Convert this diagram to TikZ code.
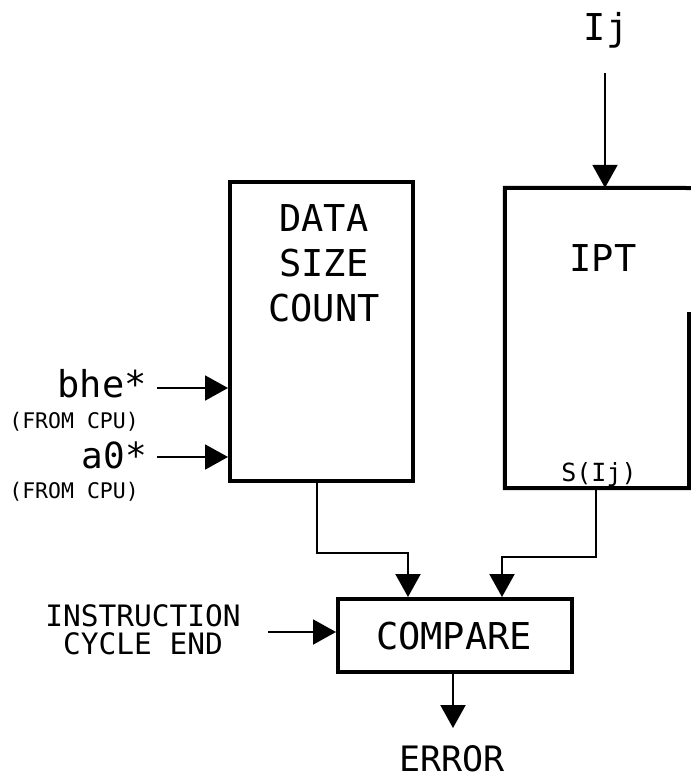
\documentclass[tikz,border=0pt]{standalone}
\usepackage{fontspec}
\setmonofont{DejaVu Sans Mono}
\usetikzlibrary{arrows.meta,calc}
\newcommand\pf[2]{\fontsize{#1}{#2}\selectfont\ttfamily}
\tikzset{
  box/.style={draw, line width=4pt, inner sep=0pt},
  conn/.style={line width=2pt, -{Triangle[length=23pt,width=25pt]}},
  big/.style={font=\pf{37}{45}, align=center, inner sep=0pt},
  mid/.style={font=\pf{29.5}{27.5}, align=center, inner sep=0pt},
  small/.style={font=\pf{21.5}{21.5}, inner sep=0pt},
}
\begin{document}
\begin{tikzpicture}[x=1pt,y=-1pt]
\useasboundingbox (0,0) rectangle (691,780);
% boxes
\node[box, minimum width=183pt, minimum height=299pt] (dsc) at (321.5,331.5) {};
\node[big] (dsctext) at (324,263.5) {DATA\\SIZE\\COUNT};
\node[inner sep=0pt, minimum width=184pt, minimum height=300pt] (ipt) at (597,338) {};
\draw[line width=4pt] (691,188) -- (ipt.north west) -- (ipt.south west) -- (ipt.south east) -- ++(0,-176);
\node[big] (ipttext) at (603,258.5) {IPT};
\node[font=\pf{25}{25}, inner sep=0pt, anchor=base] (sij) at (599,481) {S(Ij)};
\node[box, minimum width=234pt, minimum height=73pt] (cmp) at (455,635.5) {};
\node[big] (cmptext) at (454,636.5) {COMPARE};
% Ij input
\node[big, anchor=base] (ij) at (606,40) {Ij};
\coordinate (ijs) at (605,73);
\draw[conn] (ijs) -- (ijs |- ipt.north);
% left inputs
\node[font=\pf{37}{37}, inner sep=0pt, anchor=base east] (bhe) at (147,397) {bhe*};
\node[small, anchor=base east] (cpu1) at (139,428) {(FROM CPU)};
\coordinate (bs) at (157,388);
\draw[conn] (bs) -- (bs -| dsc.west);
\node[font=\pf{36}{36}, inner sep=0pt, anchor=base east] (azero) at (147,468) {a0*};
\node[small, anchor=base east] (cpu2) at (139,498) {(FROM CPU)};
\coordinate (as) at (157,457);
\draw[conn] (as) -- (as -| dsc.west);
% outputs to compare
\coordinate (d1) at (317,553);
\coordinate (d2) at (408,553);
\draw[conn] (d1 |- dsc.south) -- (d1) -- (d2) -- (d2 |- cmp.north);
\coordinate (p1) at (596,557);
\coordinate (p2) at (502,557);
\draw[conn] (p1 |- ipt.south) -- (p1) -- (p2) -- (p2 |- cmp.north);
% instruction cycle end
\node[mid] (ice) at (143,630) {INSTRUCTION\\CYCLE END};
\coordinate (is) at (268,632);
\draw[conn] (is) -- (is -| cmp.west);
% error
\coordinate (ee) at (453,728);
\draw[conn] (ee |- cmp.south) -- (ee);
\node[font=\pf{35}{35}, inner sep=0pt] (err) at (452,759) {ERROR};
\end{tikzpicture}
\end{document}
